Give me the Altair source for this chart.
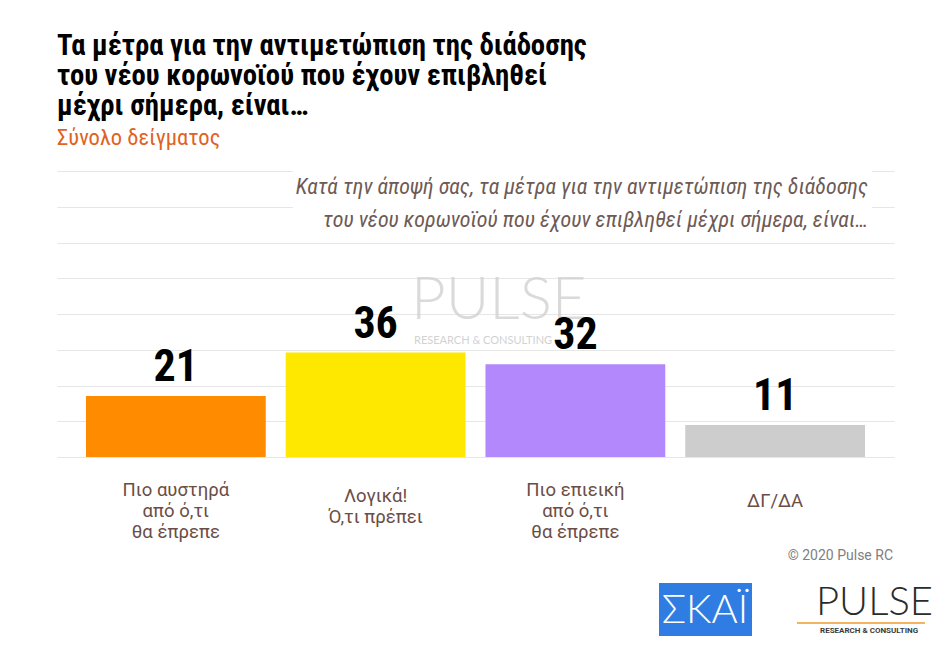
import altair as alt
import pandas as pd

# ---- data -------------------------------------------------------------
categories = [
    "Πιο αυστηρά|από ό,τι|θα έπρεπε",
    "Λογικά!|Ό,τι πρέπει",
    "Πιο επιεική|από ό,τι|θα έπρεπε",
    "ΔΓ/ΔΑ",
]
values = [21, 36, 32, 11]
bar_colors = ["#FF8C00", "#FFE800", "#B388FD", "#CDCDCD"]

title_lines = [
    "Τα μέτρα για την αντιμετώπιση της διάδοσης",
    "του νέου κορωνοϊού που έχουν επιβληθεί",
    "μέχρι σήμερα, είναι…",
]
subtitle_text = "Σύνολο δείγματος"
question_lines = [
    "Κατά την άποψή σας, τα μέτρα για την αντιμετώπιση της διάδοσης",
    "του νέου κορωνοϊού που έχουν επιβληθεί μέχρι σήμερα, είναι…",
]
copyright_text = "© 2020 Pulse RC"

NARROW = "Liberation Sans Narrow, Roboto Condensed, DejaVu Sans Condensed, sans-serif"

W, H = 837, 286
YMAX = 98.6
grid_values = [i * YMAX / 8 for i in range(9)]

df = pd.DataFrame({"cat": categories, "value": values, "color": bar_colors})

n_lines = "length(split(datum.label, '|'))"

x_enc = alt.X(
    "cat:N",
    sort=categories,
    title=None,
    scale=alt.Scale(paddingInner=0.1, paddingOuter=0.145),
    axis=alt.Axis(
        labelExpr="split(datum.label, '|')",
        labelAngle=0,
        labelFont="Roboto",
        labelFontSize=18.5,
        labelColor="#6B4D46",
        labelLineHeight=21,
        labelBaseline="middle",
        labelPadding={
            "condition": [
                {"test": f"{n_lines} == 3", "value": 32},
                {"test": f"{n_lines} == 2", "value": 38},
            ],
            "value": 43,
        },
        ticks=False,
        tickSize=0,
        domain=False,
        grid=False,
        labelLimit=300,
    ),
)
y_enc = alt.Y(
    "value:Q",
    title=None,
    scale=alt.Scale(domain=[0, YMAX], nice=False, zero=True),
    axis=alt.Axis(
        values=grid_values,
        tickCount=len(grid_values),
        labels=False,
        ticks=False,
        domain=False,
        grid=True,
        gridColor="#E6E6E6",
        gridWidth=1,
    ),
)

base = alt.Chart(df)

bars = base.mark_bar().encode(
    x=x_enc,
    y=y_enc,
    color=alt.Color("color:N", scale=None),
)

labels = base.mark_text(
    baseline="bottom", dy=-6, font=NARROW, fontSize=44, fontWeight="bold", color="#000000"
).encode(x=alt.X("cat:N", sort=categories), y="value:Q", text="value:Q")

# watermark
wm_df = pd.DataFrame({"t": ["PULSE"]})
watermark = alt.Chart(wm_df).mark_text(
    font="Lato", fontWeight=300, fontSize=60, color="#D2D2D2", align="left", baseline="middle",
    opacity=0.8,
).encode(x=alt.value(354), y=alt.value(130), text="t:N")
wm2_df = pd.DataFrame({"t": ["RESEARCH & CONSULTING"]})
watermark2 = alt.Chart(wm2_df).mark_text(
    font="Lato", fontSize=11, color="#C8C8C8", align="left", baseline="middle", opacity=0.8,
).encode(x=alt.value(357), y=alt.value(170), text="t:N")

# white box behind the question
box_df = pd.DataFrame({"k": [1]})
box = alt.Chart(box_df).mark_rect(color="white").encode(
    x=alt.value(236), x2=alt.value(815), y=alt.value(-6), y2=alt.value(63)
)
q_df = pd.DataFrame({"t": [question_lines]})
question = alt.Chart(q_df).mark_text(
    font=NARROW, fontStyle="italic", fontSize=22, color="#6E5A55", align="right",
    baseline="middle", lineHeight=33,
).encode(x=alt.value(811), y=alt.value(16), text="t")

# footer
c_df = pd.DataFrame({"t": [copyright_text]})
copyright_mark = alt.Chart(c_df).mark_text(
    font="Roboto", fontSize=14, color="#808080", align="right", baseline="middle"
).encode(x=alt.value(836), y=alt.value(385), text="t:N")

logo_box = alt.Chart(box_df).mark_rect(color="#2F7DE3").encode(
    x=alt.value(602), x2=alt.value(695), y=alt.value(412), y2=alt.value(465)
)
skai_df = pd.DataFrame({"t": ["ΣΚΑΪ"]})
skai = alt.Chart(skai_df).mark_text(
    font="Lato", fontWeight=300, fontSize=40, color="white", align="center", baseline="middle"
).encode(x=alt.value(648), y=alt.value(440), text="t:N")

pulse_df = pd.DataFrame({"t": ["PULSE"]})
pulse = alt.Chart(pulse_df).mark_text(
    font="Lato", fontWeight=300, fontSize=40, color="#2B2B2B", align="left", baseline="middle"
).encode(x=alt.value(759), y=alt.value(432), text="t:N")
pulse_line = alt.Chart(box_df).mark_rule(color="#F39A2A", strokeWidth=1.5).encode(
    x=alt.value(740), x2=alt.value(868), y=alt.value(452)
)
rc_df = pd.DataFrame({"t": ["RESEARCH & CONSULTING"]})
rc = alt.Chart(rc_df).mark_text(
    font="Roboto", fontWeight="bold", fontSize=8, color="#3A3A3A", align="left", baseline="middle"
).encode(x=alt.value(763), y=alt.value(460), text="t:N")

chart = (
    alt.layer(
        watermark, watermark2, box, question, bars, labels,
        copyright_mark, logo_box, skai, pulse, pulse_line, rc,
    )
    .properties(
        width=W,
        height=H,
        view=alt.ViewBackground(stroke="transparent", strokeWidth=0),
        title=alt.TitleParams(
            text=title_lines,
            subtitle=[subtitle_text],
            anchor="start",
            frame="group",
            font=NARROW,
            fontSize=28.7,
            fontWeight="bold",
            color="#000000",
            lineHeight=30,
            subtitleFont=NARROW,
            subtitleFontSize=22.5,
            subtitleColor="#E0621F",
            subtitlePadding=6,
            offset=16,
        ),
        autosize=alt.AutoSizeParams(type="none"),
        padding={"left": 57, "top": 171, "right": 56, "bottom": 193},
    )
    .configure_view(stroke="transparent", strokeWidth=0)
    .configure(background="white")
)

chart.save("out.html", embed_options={"renderer": "svg", "actions": False})
